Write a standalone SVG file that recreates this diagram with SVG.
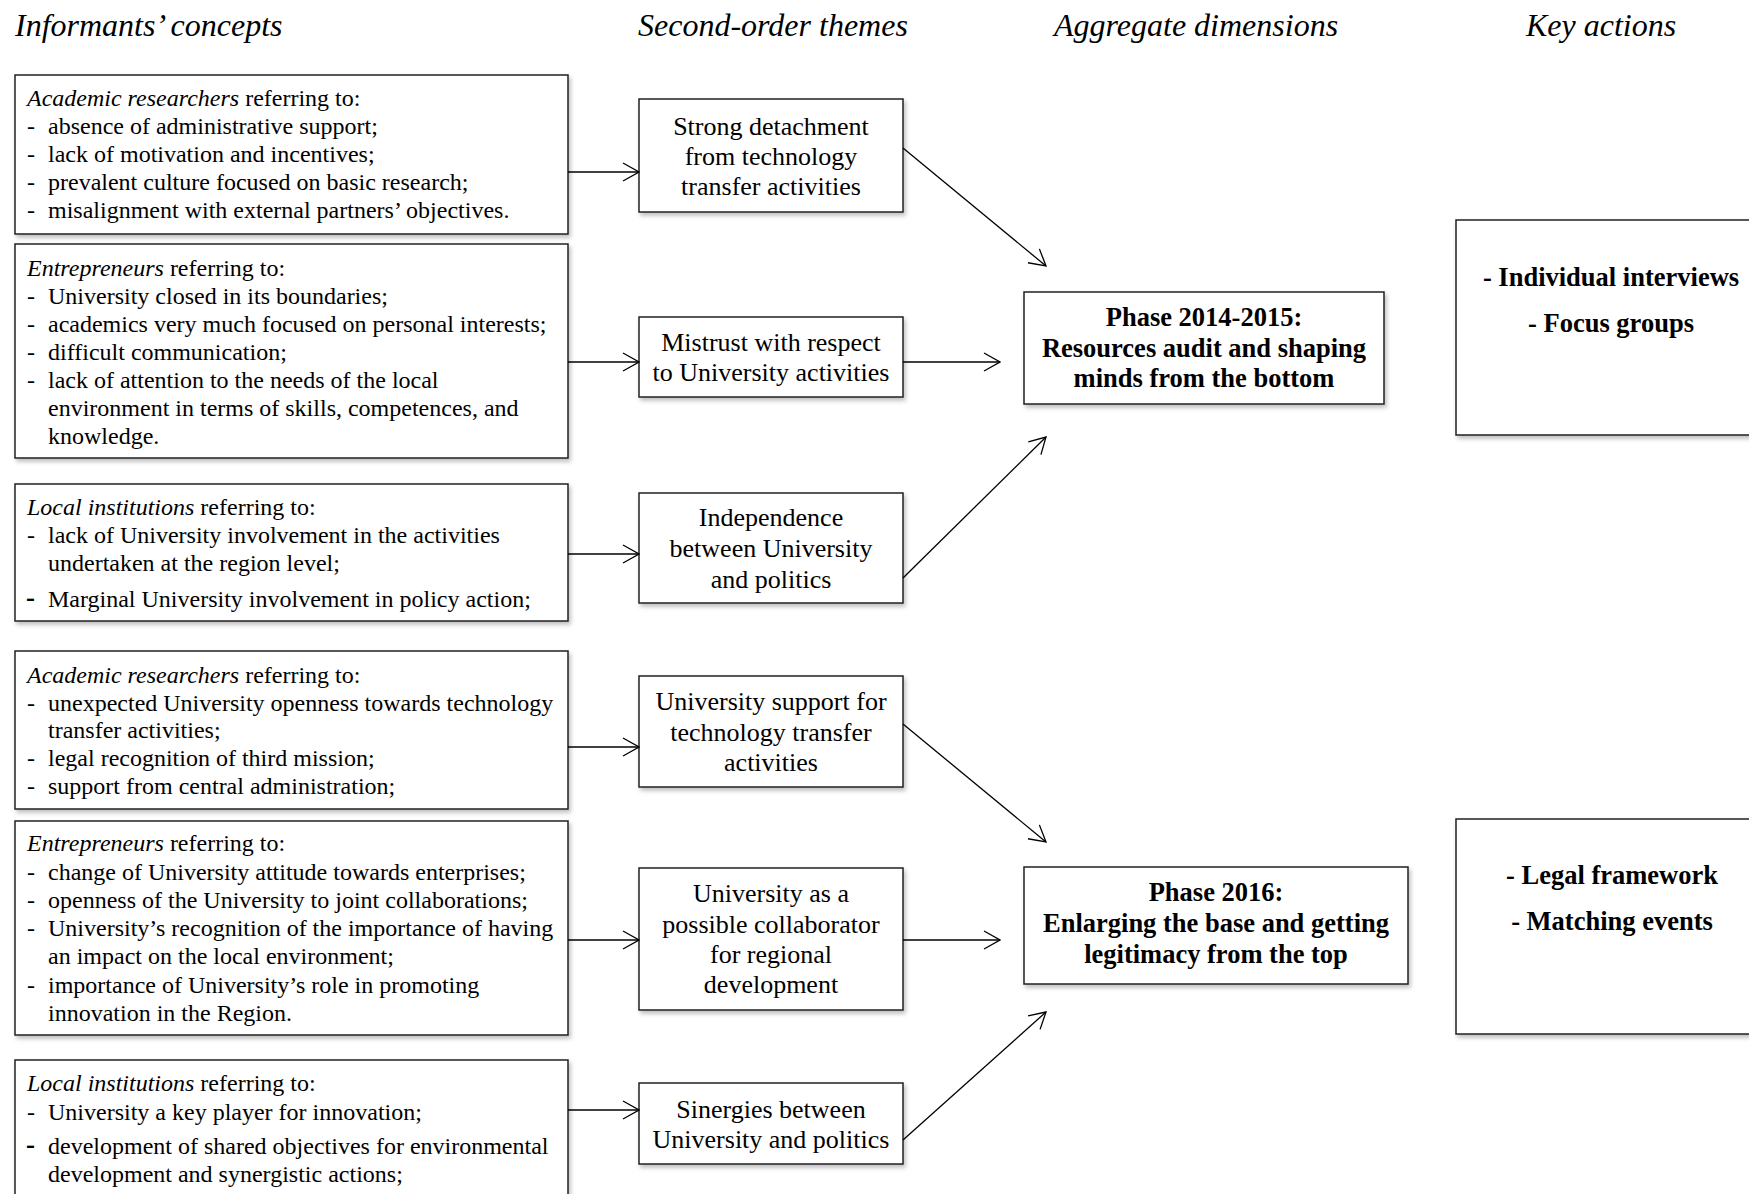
<svg xmlns="http://www.w3.org/2000/svg" width="1749" height="1194" viewBox="0 0 1749 1194">
<style>
text{font-family:"Liberation Serif","Times New Roman",serif;fill:#000}
.box{fill:#fff;stroke:#222;stroke-width:1.5;filter:url(#sh)}
.c{font-size:24px}
.i{font-style:italic}
.th{font-size:26px;text-anchor:middle}
.b{font-size:26.5px;font-weight:bold;text-anchor:middle}
.hd{font-size:32px;font-style:italic}
.bd{font-size:27px;font-weight:bold}
#connectors line{stroke:#000;stroke-width:1.3;fill:none;marker-end:url(#ah)}
</style>
<defs>
<filter id="sh" x="-5%" y="-5%" width="115%" height="120%">
<feDropShadow dx="2" dy="3" stdDeviation="2" flood-color="#000" flood-opacity="0.25"/>
</filter>
<marker id="ah" viewBox="0 0 18 20" refX="17" refY="10" markerWidth="18" markerHeight="20" markerUnits="userSpaceOnUse" orient="auto">
<path d="M1,1 L17,10 L1,19" fill="none" stroke="#000" stroke-width="1.3"/>
</marker>
</defs>
<rect width="1749" height="1194" fill="#fff"/>

<g id="headers">
<text class="hd" x="15" y="36">Informants’ concepts</text>
<text class="hd" x="638" y="36">Second-order themes</text>
<text class="hd" x="1054" y="36">Aggregate dimensions</text>
<text class="hd" x="1526" y="36">Key actions</text>
</g>

<g id="concept-a1">
<rect class="box" x="15" y="75" width="553" height="159"/>
<text class="c" x="27" y="106"><tspan class="i">Academic researchers</tspan> referring to:</text>
<text class="c" x="27" y="134">-</text><text class="c" x="48" y="134">absence of administrative support;</text>
<text class="c" x="27" y="162">-</text><text class="c" x="48" y="162">lack of motivation and incentives;</text>
<text class="c" x="27" y="190">-</text><text class="c" x="48" y="190">prevalent culture focused on basic research;</text>
<text class="c" x="27" y="218">-</text><text class="c" x="48" y="218">misalignment with external partners’ objectives.</text>
</g>

<g id="concept-e1">
<rect class="box" x="15" y="244" width="553" height="214"/>
<text class="c" x="27" y="276"><tspan class="i">Entrepreneurs</tspan> referring to:</text>
<text class="c" x="27" y="304">-</text><text class="c" x="48" y="304">University closed in its boundaries;</text>
<text class="c" x="27" y="332">-</text><text class="c" x="48" y="332">academics very much focused on personal interests;</text>
<text class="c" x="27" y="360">-</text><text class="c" x="48" y="360">difficult communication;</text>
<text class="c" x="27" y="388">-</text><text class="c" x="48" y="388">lack of attention to the needs of the local</text>
<text class="c" x="48" y="416">environment in terms of skills, competences, and</text>
<text class="c" x="48" y="444">knowledge.</text>
</g>

<g id="concept-l1">
<rect class="box" x="15" y="484" width="553" height="137"/>
<text class="c" x="27" y="515"><tspan class="i">Local institutions</tspan> referring to:</text>
<text class="c" x="27" y="543">-</text><text class="c" x="48" y="543">lack of University involvement in the activities</text>
<text class="c" x="48" y="571">undertaken at the region level;</text>
<text class="bd" x="26" y="606">-</text><text class="c" x="48" y="607">Marginal University involvement in policy action;</text>
</g>

<g id="concept-a2">
<rect class="box" x="15" y="651" width="553" height="158"/>
<text class="c" x="27" y="683"><tspan class="i">Academic researchers</tspan> referring to:</text>
<text class="c" x="27" y="711">-</text><text class="c" x="48" y="711">unexpected University openness towards technology</text>
<text class="c" x="48" y="738">transfer activities;</text>
<text class="c" x="27" y="766">-</text><text class="c" x="48" y="766">legal recognition of third mission;</text>
<text class="c" x="27" y="794">-</text><text class="c" x="48" y="794">support from central administration;</text>
</g>

<g id="concept-e2">
<rect class="box" x="15" y="821" width="553" height="214"/>
<text class="c" x="27" y="851"><tspan class="i">Entrepreneurs</tspan> referring to:</text>
<text class="c" x="27" y="880">-</text><text class="c" x="48" y="880">change of University attitude towards enterprises;</text>
<text class="c" x="27" y="908">-</text><text class="c" x="48" y="908">openness of the University to joint collaborations;</text>
<text class="c" x="27" y="936">-</text><text class="c" x="48" y="936">University’s recognition of the importance of having</text>
<text class="c" x="48" y="964">an impact on the local environment;</text>
<text class="c" x="27" y="993">-</text><text class="c" x="48" y="993">importance of University’s role in promoting</text>
<text class="c" x="48" y="1021">innovation in the Region.</text>
</g>

<g id="concept-l2">
<rect class="box" x="15" y="1060" width="553" height="160"/>
<text class="c" x="27" y="1091"><tspan class="i">Local institutions</tspan> referring to:</text>
<text class="c" x="27" y="1120">-</text><text class="c" x="48" y="1120">University a key player for innovation;</text>
<text class="bd" x="26" y="1153">-</text><text class="c" x="48" y="1154">development of shared objectives for environmental</text>
<text class="c" x="48" y="1182">development and synergistic actions;</text>
</g>

<g id="theme-1">
<rect class="box" x="639" y="99" width="264" height="113"/>
<text class="th" x="771" y="135">Strong detachment</text>
<text class="th" x="771" y="165">from technology</text>
<text class="th" x="771" y="195">transfer activities</text>
</g>
<g id="theme-2">
<rect class="box" x="639" y="317" width="264" height="80"/>
<text class="th" x="771" y="351">Mistrust with respect</text>
<text class="th" x="771" y="381">to University activities</text>
</g>
<g id="theme-3">
<rect class="box" x="639" y="493" width="264" height="110"/>
<text class="th" x="771" y="526">Independence</text>
<text class="th" x="771" y="557">between University</text>
<text class="th" x="771" y="588">and politics</text>
</g>
<g id="theme-4">
<rect class="box" x="639" y="676" width="264" height="111"/>
<text class="th" x="771" y="710">University support for</text>
<text class="th" x="771" y="741">technology transfer</text>
<text class="th" x="771" y="771">activities</text>
</g>
<g id="theme-5">
<rect class="box" x="639" y="868" width="264" height="142"/>
<text class="th" x="771" y="902">University as a</text>
<text class="th" x="771" y="933">possible collaborator</text>
<text class="th" x="771" y="963">for regional</text>
<text class="th" x="771" y="993">development</text>
</g>
<g id="theme-6">
<rect class="box" x="639" y="1083" width="264" height="81"/>
<text class="th" x="771" y="1118">Sinergies between</text>
<text class="th" x="771" y="1148">University and politics</text>
</g>

<g id="phase-2014-2015">
<rect class="box" x="1024" y="292" width="360" height="112"/>
<text class="b" x="1204" y="326">Phase 2014-2015:</text>
<text class="b" x="1204" y="357">Resources audit and shaping</text>
<text class="b" x="1204" y="387">minds from the bottom</text>
</g>
<g id="phase-2016">
<rect class="box" x="1024" y="867" width="384" height="117"/>
<text class="b" x="1216" y="901">Phase 2016:</text>
<text class="b" x="1216" y="932">Enlarging the base and getting</text>
<text class="b" x="1216" y="963">legitimacy from the top</text>
</g>

<g id="actions-1">
<rect class="box" x="1456" y="220" width="320" height="215"/>
<text class="b" x="1611" y="286">- Individual interviews</text>
<text class="b" x="1611" y="332">- Focus groups</text>
</g>
<g id="actions-2">
<rect class="box" x="1456" y="819" width="320" height="215"/>
<text class="b" x="1612" y="884">- Legal framework</text>
<text class="b" x="1612" y="930">- Matching events</text>
</g>

<g id="connectors">
<line x1="568" y1="172" x2="639" y2="172"/>
<line x1="568" y1="362" x2="639" y2="362"/>
<line x1="568" y1="554" x2="639" y2="554"/>
<line x1="568" y1="747" x2="639" y2="747"/>
<line x1="568" y1="940" x2="639" y2="940"/>
<line x1="568" y1="1110" x2="639" y2="1110"/>
<line x1="903" y1="148" x2="1046" y2="266"/>
<line x1="903" y1="362" x2="1000" y2="362"/>
<line x1="903" y1="578" x2="1046" y2="437"/>
<line x1="903" y1="724" x2="1046" y2="842"/>
<line x1="903" y1="940" x2="1000" y2="940"/>
<line x1="903" y1="1140" x2="1046" y2="1012"/>
</g>
</svg>
